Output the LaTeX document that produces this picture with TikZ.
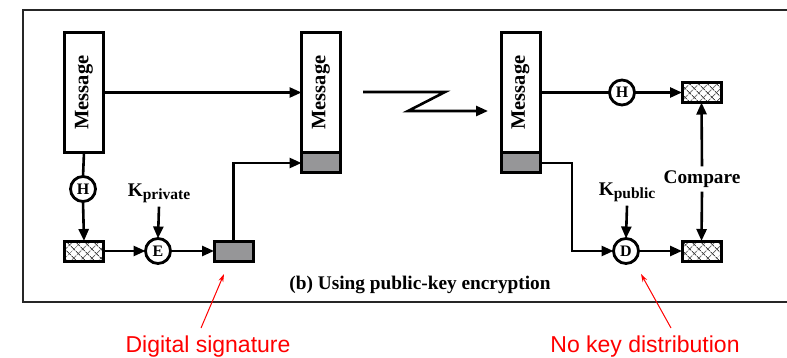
\documentclass[tikz,border=0pt]{standalone}
\usepackage{fontspec}
\setmainfont{Liberation Serif}
\newfontfamily\redfont{Liberation Sans}
\usetikzlibrary{arrows.meta,patterns.meta}
\definecolor{sgray}{RGB}{150,150,152}
\definecolor{hatchc}{RGB}{70,70,70}
\definecolor{notered}{RGB}{255,0,0}
\begin{document}
\begin{tikzpicture}[x=1pt,y=-1pt,
  box/.style={draw, line width=3pt, minimum width=39pt, inner sep=0pt, outer sep=0pt},
  msgbox/.style={box, minimum height=120pt, font=\fontsize{20.5}{20.5}\selectfont\bfseries},
  sigpart/.style={box, fill=sgray, minimum height=20pt},
  hatchbox/.style={box, minimum height=20pt,
     preaction={pattern={Lines[angle=45,distance=6.5pt,line width=1pt]}, pattern color=hatchc},
     pattern={Lines[angle=-45,distance=6.5pt,line width=1pt]}, pattern color=hatchc},
  op/.style={circle, draw, line width=2.8pt, minimum size=25pt, inner sep=0pt, outer sep=0pt,
     font=\fontsize{16}{16}\selectfont\bfseries},
  lbl/.style={inner sep=0pt, font=\fontsize{19.3}{19.3}\selectfont\bfseries},
  plain/.style={line width=2.6pt},
  conn/.style={line width=2.6pt, -{Triangle[length=12pt,width=10pt]}},
  note/.style={font=\redfont\fontsize{23}{23}\selectfont, text=notered, inner sep=0pt},
  notearrow/.style={draw=notered, line width=1pt, -{Stealth[length=8pt,width=5pt]}}
]
\useasboundingbox (0,0) rectangle (787,358);
% frame
\draw[line width=2pt, draw=black!85] (23,10) rectangle (800,302);

% sender
\node[msgbox] (msg1) at (84,92.5) {\rotatebox{90}{Message}};
\node[op] (h1) at (83,189) {H};
\node[hatchbox] (hash1) at (84,251) {};
\node[op] (enc) at (158,251) {E};
\node[sigpart] (sig) at (233.5,251) {};
\node[lbl] (kpriv) at (159,193) {K\raisebox{-0.35ex}{\fontsize{15.5}{15.5}\selectfont private}};

% transmitted
\node[msgbox] (msg2) at (321,92.5) {\rotatebox{90}{Message}};
\node[sigpart] (msg2sig) at (321,163) {};

% receiver
\node[msgbox] (msg3) at (520.5,92.5) {\rotatebox{90}{Message}};
\node[sigpart] (msg3sig) at (520.5,163) {};
\node[op] (h2) at (622,92.5) {H};
\node[hatchbox] (hash2) at (701.5,92.5) {};
\node[op] (dec) at (626,251) {D};
\node[hatchbox] (hash3) at (701.5,251) {};
\node[lbl] (kpub) at (627,192) {K\raisebox{-0.35ex}{\fontsize{15.5}{15.5}\selectfont public}};
\node[lbl] (cmp) at (702,179) {Compare};

\node[lbl] (cap) at (420,285) {(b) Using public-key encryption};

% connectors sender
\draw[conn] (msg1) -- (msg2);
\draw[plain] (msg1.south) -- (h1.north);
\draw[conn] (h1.south) -- (hash1.north);
\draw[conn] (hash1) -- (enc);
\draw[conn] (enc) -- (sig);
\draw[conn] (kpriv.south) ++(0,4) -- (enc.north);
\draw[conn] (sig.north) |- (msg2sig.west);

% transmission zigzag
\coordinate (z0) at (363,92);
\coordinate (z1) at (445,92);
\coordinate (z2) at (408,111);
\coordinate (z3) at (488,111);
\draw[conn, line join=miter] (z0) -- (z1) -- (z2) -- (z3);

% receiver connectors
\draw[plain] (msg3) -- (h2);
\draw[conn] (h2) -- (hash2);
\draw[conn] (msg3sig.east) -- ++(32,0) |- (dec.west);
\draw[conn] (kpub.south) ++(0,4) -- (dec.north);
\draw[conn] (dec) -- (hash3);
\draw[conn] (cmp.north) ++(0,-4) -- (hash2.south);
\draw[conn] (cmp.south) ++(0,4) -- (hash3.north);

% red notes
\node[note] (ds) at (208,347) {Digital signature};
\node[note] (nk) at (645,347) {No key distribution};
\coordinate (dstip) at (224,274);
\coordinate (nktip) at (641,274);
\draw[notearrow] (201,328) -- (dstip);
\draw[notearrow] (671,328) -- (nktip);
\end{tikzpicture}
\end{document}
